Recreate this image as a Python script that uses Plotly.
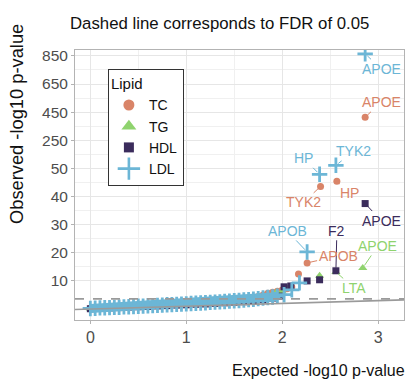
import plotly.graph_objects as go

# ---------------- data (expected vs observed -log10 p) ----------------
lipids = ["TC", "TG", "HDL", "LDL"]
colors = {"TC": "#D98468", "TG": "#8FD36E", "HDL": "#3B2C5C", "LDL": "#6CB6D6"}

tc_x = [0.0, 0.1, 0.2, 0.3, 0.4, 0.5, 0.6, 0.7, 0.8, 0.9, 1.0, 1.1, 1.2, 1.3, 1.4, 1.5, 1.6,
        1.65, 1.7, 1.75, 1.8, 1.85, 1.9, 1.95, 2.0, 2.05, 2.1, 2.17, 2.26, 2.40, 2.57, 2.865]
tc_y = [0.3, 0.5, 0.6, 0.8, 0.9, 1.1, 1.3, 1.4, 1.6, 1.8, 2.0, 2.2, 2.4, 2.6, 2.9, 3.1, 3.5,
        3.8, 4.1, 4.5, 5.0, 5.6, 6.0, 6.3, 6.8, 7.2, 7.8, 12.5, 16.4, 43.6, 45.4, 414]

tg_x = [0.0, 0.1, 0.2, 0.3, 0.4, 0.5, 0.6, 0.7, 0.8, 0.9, 1.0, 1.1, 1.2, 1.3, 1.4, 1.5, 1.6,
        1.7, 1.8, 1.85, 1.9, 1.94, 2.0, 2.06, 2.39, 2.56, 2.84]
tg_y = [0.2, 0.4, 0.5, 0.6, 0.8, 0.9, 1.1, 1.2, 1.4, 1.5, 1.7, 1.9, 2.0, 2.2, 2.4, 2.7, 2.9,
        3.3, 3.9, 4.4, 5.2, 6.0, 6.2, 7.2, 11.8, 13.2, 14.6]

hdl_x = [0.0, 0.1, 0.2, 0.3, 0.4, 0.5, 0.6, 0.7, 0.8, 0.9, 1.0, 1.1, 1.2, 1.3, 1.4, 1.5, 1.6,
         1.7, 1.8, 1.9, 1.97, 2.02, 2.09, 2.26, 2.39, 2.56, 2.865]
hdl_y = [0.1, 0.3, 0.4, 0.5, 0.7, 0.8, 0.9, 1.1, 1.2, 1.4, 1.5, 1.7, 1.8, 2.0, 2.2, 2.4, 2.6,
         2.9, 3.3, 3.9, 4.6, 7.9, 8.2, 10.0, 10.4, 13.6, 37.5]

ldl_x = [0.00, 0.05, 0.10, 0.15, 0.20, 0.25, 0.30, 0.35, 0.40, 0.45, 0.50, 0.55, 0.60, 0.65,
         0.70, 0.75, 0.80, 0.85, 0.90, 0.95, 1.00, 1.05, 1.10, 1.15, 1.20, 1.25, 1.30, 1.35,
         1.40, 1.45, 1.50, 1.55, 1.60, 1.65, 1.70, 1.75, 1.80, 1.85, 1.90, 1.95, 2.02, 2.10,
         2.18, 2.26, 2.39, 2.56, 2.865]
ldl_y = [0.2, 0.3, 0.4, 0.45, 0.5, 0.6, 0.65, 0.75, 0.8, 0.9, 1.0, 1.05, 1.15, 1.2,
         1.3, 1.4, 1.5, 1.55, 1.65, 1.75, 1.85, 1.95, 2.05, 2.15, 2.25, 2.35, 2.45, 2.55,
         2.7, 2.8, 2.95, 3.05, 3.2, 3.35, 3.5, 3.7, 3.9, 4.1, 4.3, 4.6, 5.1, 6.8,
         9.3, 20.3, 47.9, 72, 865]

series = {"TC": (tc_x, tc_y), "TG": (tg_x, tg_y), "HDL": (hdl_x, hdl_y), "LDL": (ldl_x, ldl_y)}

# labelled genes: lipid, gene, expected, observed
lab_lipid = ["LDL", "TC", "HDL", "TG", "TG", "HDL", "LDL", "TC", "TC", "TC", "LDL", "LDL"]
lab_gene = ["APOE", "APOE", "APOE", "APOE", "LTA", "F2", "APOB", "APOB", "HP", "TYK2", "HP", "TYK2"]
lab_x = [2.865, 2.865, 2.865, 2.84, 2.56, 2.56, 2.26, 2.26, 2.57, 2.40, 2.39, 2.56]
lab_y = [865, 414, 37.5, 14.6, 13.2, 13.6, 20.3, 16.4, 45.4, 43.6, 47.9, 72]

fdr_threshold = 3.6
y_tick_vals = [10, 20, 30, 40, 50, 250, 450, 650, 850]
y_minor_vals = [15, 25, 35, 45, 150, 350, 550, 750]
x_tick_vals = [0, 1, 2, 3]
x_minor_vals = [0.5, 1.5, 2.5]
bulk_limit = 2.0  # dense part of the QQ cloud (drawn as a solid band)

# ---------------- axis transform: linear up to 50, compressed above ----------------
BREAK, SQUEEZE = 50, 20


def tr(v):
    return v if v <= BREAK else BREAK + (v - BREAK) / SQUEEZE


symbols = {"TC": "circle", "TG": "triangle-up", "HDL": "square", "LDL": "cross-thin"}
sizes = {"TC": 7, "TG": 8, "HDL": 7, "LDL": 11}

fig = go.Figure()
for lp in lipids:
    xs, ys = series[lp]
    if lp == "LDL":
        bx = [x for x in xs if x <= bulk_limit]
        by = [tr(y) for x, y in zip(xs, ys) if x <= bulk_limit]
        fig.add_trace(go.Scatter(x=bx, y=by, mode="lines", line=dict(color=colors[lp], width=9),
                                 showlegend=False, hoverinfo="skip"))
    mk = dict(symbol=symbols[lp], size=sizes[lp], color=colors[lp])
    if lp == "LDL":
        mk["line"] = dict(color=colors[lp], width=2.8)
    else:
        mk["line"] = dict(width=0)
    fig.add_trace(go.Scatter(x=xs, y=[tr(v) for v in ys], mode="markers", marker=mk,
                             showlegend=False, hoverinfo="skip"))

# legend-only traces (bigger keys, as in the reference)
leg_sizes = {"TC": 11, "TG": 13, "HDL": 10, "LDL": 17}
for lp in lipids:
    mk = dict(symbol=symbols[lp], size=leg_sizes[lp], color=colors[lp])
    if lp == "LDL":
        mk["line"] = dict(color=colors[lp], width=2.6)
    fig.add_trace(go.Scatter(x=[None], y=[None], mode="markers", marker=mk, name=lp))

# reference lines
x_lo, x_hi = -0.16, 3.27
fig.add_shape(type="line", x0=x_lo, x1=x_hi, y0=x_lo, y1=x_hi, xref="x", yref="y",
              line=dict(color="#9a9a9a", width=1.6))
fig.add_shape(type="line", x0=0, x1=1, xref="paper", y0=fdr_threshold, y1=fdr_threshold, yref="y",
              line=dict(color="#9a9a9a", width=1.6, dash="dash"))

# gene labels (ggrepel-like)
offsets = {
    ("LDL", "APOE"): (16, 15), ("TC", "APOE"): (16, -15), ("HDL", "APOE"): (16, 17),
    ("TG", "APOE"): (15, -22), ("TG", "LTA"): (18, 16), ("HDL", "F2"): (1, -40),
    ("LDL", "APOB"): (-20, -21), ("TC", "APOB"): (31, -7), ("TC", "HP"): (13, 12),
    ("TC", "TYK2"): (-17, 16), ("LDL", "HP"): (-16, -16), ("LDL", "TYK2"): (18, -14),
}
for lp, g, x, y in zip(lab_lipid, lab_gene, lab_x, lab_y):
    ax, ay = offsets[(lp, g)]
    fig.add_annotation(x=x, y=tr(y), text=g, showarrow=True, arrowhead=0, arrowwidth=1,
                       arrowcolor=colors[lp], ax=ax, ay=ay, standoff=3,
                       font=dict(size=14, color=colors[lp], family="Liberation Sans"))

# subtitle and axis titles
fig.add_annotation(text="Dashed line corresponds to FDR of 0.05", xref="paper", yref="paper",
                   x=0.44, y=1.0, yshift=38, showarrow=False,
                   font=dict(size=16.8, color="#111", family="Liberation Sans"))
fig.add_annotation(text="Expected -log10 p-value", xref="paper", yref="paper",
                   x=1.0, xanchor="right", xshift=3, y=0, yanchor="middle", yshift=-50,
                   showarrow=False,
                   font=dict(size=16, color="#111", family="Liberation Sans"))
fig.add_annotation(text="Observed -log10 p-value", xref="paper", yref="paper",
                   x=0, xanchor="center", xshift=-58, y=0.726, yanchor="middle",
                   textangle=-90, showarrow=False,
                   font=dict(size=18.3, color="#111", family="Liberation Sans"))

grid = "#e6e6e6"
fig.update_layout(
    width=408, height=381,
    margin=dict(l=75, r=4, t=50, b=61),
    plot_bgcolor="white", paper_bgcolor="white",
    font=dict(family="Liberation Sans", color="#4d4d4d"),
    xaxis=dict(range=[x_lo, x_hi], tickvals=x_tick_vals, ticktext=[str(v) for v in x_tick_vals],
               showgrid=True, gridcolor=grid, gridwidth=1, zeroline=False,
               showline=True, linecolor="#b3b3b3", mirror=True, linewidth=1,
               ticks="outside", ticklen=3, tickcolor="#b3b3b3", tickfont=dict(size=16),
               minor=dict(tickvals=x_minor_vals, showgrid=True, gridcolor="#f0f0f0", gridwidth=1)),
    yaxis=dict(range=[-3.9, 92.1], tickvals=[tr(v) for v in y_tick_vals],
               ticktext=[str(v) for v in y_tick_vals],
               showgrid=True, gridcolor=grid, gridwidth=1, zeroline=False,
               showline=True, linecolor="#b3b3b3", mirror=True, linewidth=1,
               ticks="outside", ticklen=3, tickcolor="#b3b3b3", tickfont=dict(size=15.5),
               minor=dict(tickvals=[tr(v) for v in y_minor_vals], showgrid=True,
                          gridcolor="#f0f0f0", gridwidth=1)),
    legend=dict(x=0.10, y=0.93, xanchor="left", yanchor="top",
                bgcolor="white", bordercolor="#333", borderwidth=1,
                title=dict(text="Lipid", font=dict(size=15, color="#111")),
                font=dict(size=14, color="#111"), tracegroupgap=0, itemwidth=30),
)

fig.write_html("out.html", post_script="document.body.style.margin='0';",
               config={"displayModeBar": False})
